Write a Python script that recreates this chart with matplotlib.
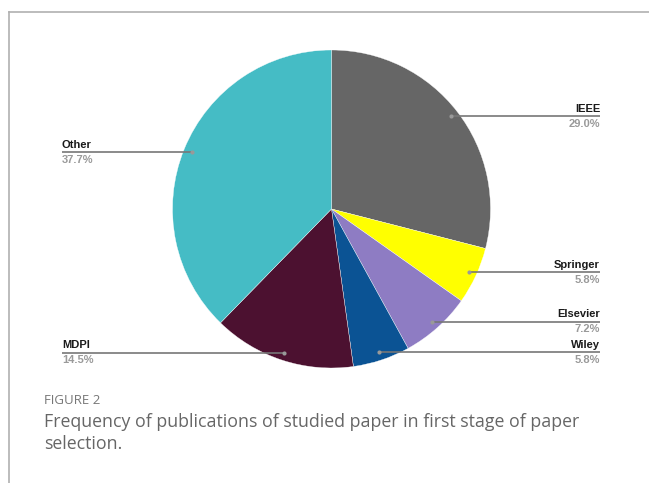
import numpy as np
import matplotlib.pyplot as plt

# chart data
publishers = ['IEEE', 'Springer', 'Elsevier', 'Wiley', 'MDPI', 'Other']
shares = [29.0, 5.8, 7.2, 5.8, 14.5, 37.7]
colors = ['#666666', '#ffff00', '#8e7cc3', '#0b5394', '#4c1130', '#45bcc5']
label_side = ['right', 'right', 'right', 'right', 'left', 'left']

caption_head = 'FIGURE 2'
caption_text = ('Frequency of publications of studied paper in first stage of paper\n'
                'selection.')

W, H = 649, 483
fig = plt.figure(figsize=(W / 100, H / 100), dpi=100)
ax = fig.add_axes([0, 0, 1, 1])

cx, cy, R = 331.5, H - 209, 159

wedges, _ = ax.pie(shares, colors=colors, startangle=90, counterclock=False,
                   center=(cx, cy), radius=R, frame=True,
                   wedgeprops=dict(edgecolor='white', linewidth=0.25))
ax.set_xlim(0, W)
ax.set_ylim(0, H)
ax.axis('off')

for w, name, val, side in zip(wedges, publishers, shares, label_side):
    ang = np.deg2rad((w.theta1 + w.theta2) / 2)
    px = cx + 0.95 * R * np.cos(ang)
    py = cy + 0.95 * R * np.sin(ang)
    if side == 'right':
        xe, ha = 600, 'right'
    else:
        xe, ha = 62, 'left'
    ax.plot([px, xe], [py, py], color='#777777', lw=1.2, solid_capstyle='butt')
    ax.plot(px, py, 'o', ms=3, color='#999999', mec='none')
    ax.text(xe, py + 2.5, name, ha=ha, va='bottom', fontsize=8,
            fontweight='bold', family='Liberation Sans', color='#1a1a1a')
    ax.text(xe, py - 2.5, f'{val:.1f}%', ha=ha, va='top', fontsize=8,
            fontweight='bold', family='Liberation Sans', color='#9a9a9a')

# frame lines
ax.plot([9, W], [H - 12, H - 12], color='#b0b0b0', lw=1.2)
ax.plot([9, 9], [H - 12, 0], color='#b0b0b0', lw=1.2)

ax.text(44, H - 400, caption_head, ha='left', va='center', fontsize=9.5,
        family='Open Sans', color='#777777')
ax.text(44, H - 413, caption_text, ha='left', va='top', fontsize=12.8,
        family='Open Sans', color='#666666', linespacing=1.3)

fig.savefig('out.png', dpi=100)
